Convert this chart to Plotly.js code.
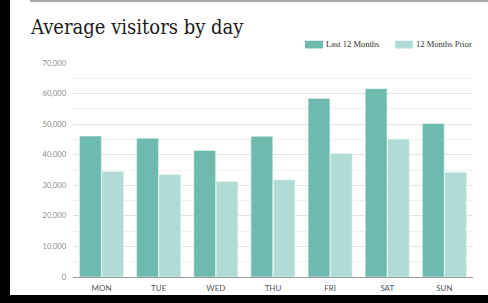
<!DOCTYPE html>
<html>
<head>
<meta charset="utf-8">
<script src="https://cdn.plot.ly/plotly-3.0.1.min.js"></script>
<style>
html,body{margin:0;padding:0;background:#000;width:488px;height:303px;overflow:hidden;}
#frame{position:absolute;left:10px;top:0;width:478px;height:295px;background:#fff;}
#topline{position:absolute;left:30px;top:0;width:458px;height:2px;background:#a9a9a9;}
#chart{position:absolute;left:10px;top:0;width:478px;height:295px;}
</style>
</head>
<body>
<div id="frame"></div>
<div id="chart"></div>
<div id="topline"></div>
<script>
const days = ["MON","TUE","WED","THU","FRI","SAT","SUN"];
const last12 = [46100, 45400, 41400, 46000, 58400, 61600, 50200];
const prior12 = [34500, 33500, 31200, 31800, 40400, 45100, 34300];
const seriesNames = ["Last 12 Months", "12 Months Prior"];
const yTicks = [0, 10000, 20000, 30000, 40000, 50000, 60000, 70000];
const yTickText = ["0", "10,000", "20,000", "30,000", "40,000", "50,000", "60,000", "70,000"];
const colLast = "#6fbaae";
const colPrior = "#b1dbd5";

const traces = [
  {type:"bar", x:days, y:last12, name:seriesNames[0],
   marker:{color:colLast, line:{color:"#e8f5f2", width:0.6}}, hoverinfo:"skip"},
  {type:"bar", x:days, y:prior12, name:seriesNames[1],
   marker:{color:colPrior, line:{color:"#eef8f6", width:0.6}}, hoverinfo:"skip"}
];

const layout = {
  width:478, height:295,
  margin:{l:63, r:15, t:63, b:18},
  paper_bgcolor:"rgba(0,0,0,0)",
  plot_bgcolor:"rgba(0,0,0,0)",
  barmode:"group", bargap:0.22, bargroupgap:0.02,
  showlegend:false,
  font:{family:"Lato, 'Open Sans', sans-serif", color:"#555"},
  title:{text:"Average visitors by day", x:0, xref:"paper", xanchor:"left",
         y:1, yref:"container", yanchor:"top", pad:{t:20, l:-42},
         font:{family:"'DejaVu Serif Condensed', 'DejaVu Serif', serif", size:20, color:"#1a1a1a"}},
  xaxis:{showgrid:false, showline:true, linecolor:"#999", linewidth:1,
         ticks:"", ticklabelstandoff:3, tickfont:{size:8, color:"#555"}, fixedrange:true},
  yaxis:{range:[0,70000], tickvals:yTicks, ticktext:yTickText,
         showgrid:true, gridcolor:"#e4e4e4", gridwidth:1,
         minor:{dtick:5000, showgrid:true, gridcolor:"#f0f0f0", gridwidth:1},
         zeroline:false, showline:false, ticks:"", ticklabelstandoff:6,
         tickfont:{size:7.5, color:"#888"}, fixedrange:true},
  shapes:[
    {type:"rect", xref:"paper", yref:"paper", x0:0.58, x1:0.625, y0:1.068, y1:1.104, fillcolor:colLast, line:{width:0}},
    {type:"rect", xref:"paper", yref:"paper", x0:0.805, x1:0.85, y0:1.068, y1:1.104, fillcolor:colPrior, line:{width:0}}
  ],
  annotations:[
    {text:seriesNames[0], xref:"paper", yref:"paper", x:0.628, y:1.087, xanchor:"left", yanchor:"middle", showarrow:false,
     font:{family:"'Liberation Serif', serif", size:8.5, color:"#333"}},
    {text:seriesNames[1], xref:"paper", yref:"paper", x:0.853, y:1.087, xanchor:"left", yanchor:"middle", showarrow:false,
     font:{family:"'Liberation Serif', serif", size:8.5, color:"#333"}}
  ]
};
Plotly.newPlot("chart", traces, layout, {staticPlot:true, displayModeBar:false});
</script>
</body>
</html>
